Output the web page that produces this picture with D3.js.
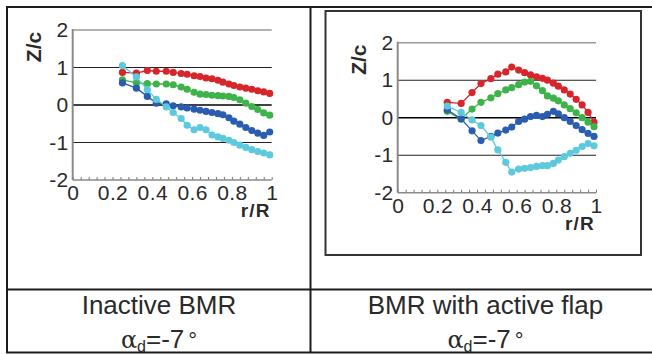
<!DOCTYPE html>
<html>
<head>
<meta charset="utf-8">
<script src="https://cdn.jsdelivr.net/npm/d3@7"></script>
<style>
  html, body { margin: 0; padding: 0; background: #fff; }
  svg { display: block; }
</style>
</head>
<body>
<svg id="chart" width="652" height="354"></svg>
<script>
// ---------------- DATA ----------------
const rValues = [0.25, 0.32, 0.375, 0.42, 0.47, 0.505, 0.545, 0.575, 0.61, 0.64, 0.67,
                 0.70, 0.73, 0.755, 0.785, 0.81, 0.84, 0.87, 0.90, 0.93, 0.96, 0.99];

// Inactive BMR
const inactiveRed   = [0.87, 0.85, 0.92, 0.90, 0.90, 0.87, 0.84, 0.82, 0.78, 0.76, 0.72,
                       0.70, 0.66, 0.61, 0.56, 0.52, 0.48, 0.45, 0.42, 0.38, 0.35, 0.31];
const inactiveGreen = [0.67, 0.59, 0.57, 0.56, 0.56, 0.54, 0.48, 0.42, 0.34, 0.29, 0.28,
                       0.26, 0.25, 0.24, 0.23, 0.20, 0.14, 0.05, -0.04, -0.12, -0.21, -0.27];
const inactiveBlue  = [0.59, 0.45, 0.23, 0.05, 0.03, -0.02, -0.05, -0.08, -0.11, -0.14, -0.17,
                       -0.20, -0.23, -0.26, -0.34, -0.43, -0.51, -0.60, -0.68, -0.75, -0.81, -0.72];
const inactiveCyan  = [1.05, 0.75, 0.41, 0.15, -0.05, -0.20, -0.36, -0.54, -0.66, -0.60, -0.66,
                       -0.80, -0.85, -0.89, -0.94, -1.00, -1.07, -1.13, -1.19, -1.24, -1.28, -1.33];

// BMR with active flap
const activeRed   = [0.41, 0.38, 0.67, 0.91, 1.04, 1.16, 1.22, 1.35, 1.27, 1.20, 1.14,
                     1.09, 1.05, 1.00, 0.92, 0.84, 0.74, 0.63, 0.49, 0.34, 0.14, -0.12];
const activeGreen = [0.17, -0.04, 0.23, 0.41, 0.53, 0.64, 0.74, 0.80, 0.88, 0.95, 0.97,
                     0.85, 0.72, 0.58, 0.52, 0.45, 0.34, 0.24, 0.13, 0.00, -0.12, -0.24];
const activeBlue  = [0.21, -0.03, -0.35, -0.61, -0.50, -0.41, -0.33, -0.25, -0.10, -0.04, 0.03,
                     0.06, 0.03, 0.09, 0.17, 0.10, 0.00, -0.10, -0.21, -0.32, -0.42, -0.50];
const activeCyan  = [0.31, 0.14, -0.06, -0.21, -0.52, -0.86, -1.19, -1.45, -1.37, -1.35, -1.33,
                     -1.30, -1.28, -1.28, -1.22, -1.13, -1.04, -0.95, -0.87, -0.77, -0.69, -0.75];

const xTickValues = [0, 0.2, 0.4, 0.6, 0.8, 1];
const xTickLabels = ["0", "0.2", "0.4", "0.6", "0.8", "1"];
const yTickValues = [-2, -1, 0, 1, 2];
const yTickLabels = ["-2", "-1", "0", "1", "2"];
const gridValues = [1, 0, -1];

const seriesColors = ["#d6262b", "#3db34a", "#2a5cb0", "#5cc9dd"];
const panelTitles = ["Inactive BMR", "BMR with active flap"];
const xLabel = "r/R";
const yLabel = "Z/c";

// ---------------- DRAW ----------------
const svg = d3.select("#chart");
const FONT = "'Liberation Sans', Arial, Helvetica, sans-serif";

const panels = [
  { x0: 72.7, x1: 271.7, yTop: 30, yBot: 180, series: [inactiveRed, inactiveGreen, inactiveBlue, inactiveCyan] },
  { x0: 397.7, x1: 596, yTop: 42.7, yBot: 192.7, series: [activeRed, activeGreen, activeBlue, activeCyan] }
];

// table frame
const frame = svg.append("g").attr("stroke", "#1c1c1c").attr("stroke-width", 2).attr("fill", "none");
frame.append("line").attr("x1", 6).attr("x2", 652).attr("y1", 7).attr("y2", 7);
frame.append("line").attr("x1", 7).attr("x2", 7).attr("y1", 6).attr("y2", 353);
frame.append("line").attr("x1", 310.5).attr("x2", 310.5).attr("y1", 6).attr("y2", 353);
frame.append("line").attr("x1", 6).attr("x2", 652).attr("y1", 289.5).attr("y2", 289.5);
frame.append("line").attr("x1", 6).attr("x2", 652).attr("y1", 352.5).attr("y2", 352.5);
// inner box around right chart
svg.append("rect").attr("x", 325.5).attr("y", 11).attr("width", 315.5).attr("height", 244)
  .attr("fill", "none").attr("stroke", "#333").attr("stroke-width", 2);

panels.forEach((p, pi) => {
  const x = d3.scaleLinear().domain([0, 1]).range([p.x0, p.x1]);
  const y = d3.scaleLinear().domain([-2, 2]).range([p.yBot, p.yTop]);
  const g = svg.append("g");

  // top frame line (y = 2)
  g.append("line").attr("x1", x(0)).attr("x2", x(1)).attr("y1", y(2)).attr("y2", y(2))
    .attr("stroke", "#999").attr("stroke-width", 1.5);
  // gridlines
  g.selectAll("line.grid").data(gridValues).join("line").attr("class", "grid")
    .attr("x1", x(0)).attr("x2", x(1))
    .attr("y1", d => y(d)).attr("y2", d => y(d))
    .attr("stroke", d => d === 0 ? "#000" : "#222")
    .attr("stroke-width", d => d === 0 ? 1.6 : 1.1);

  // minor ticks on x axis
  const minor = g.append("g").attr("transform", `translate(0,${y(-2)})`)
    .call(d3.axisBottom(x).tickValues(d3.range(0, 1.0001, 0.04)).tickSize(-3).tickFormat(""));
  minor.select(".domain").remove();
  minor.selectAll("line").attr("stroke", "#777");

  // x axis labels
  const xa = g.append("g").attr("transform", `translate(0,${y(-2)})`)
    .call(d3.axisBottom(x).tickValues(xTickValues).tickSize(0).tickPadding(5.5)
      .tickFormat((d, i) => xTickLabels[i]));
  xa.select(".domain").remove();
  xa.selectAll("text").attr("font-family", FONT).attr("font-size", 21)
    .attr("letter-spacing", "0.4px").attr("fill", "#2a2a2a");

  // y axis labels
  const ya = g.append("g").attr("transform", `translate(${x(0)},0)`)
    .call(d3.axisLeft(y).tickValues(yTickValues).tickSize(0).tickPadding(4)
      .tickFormat((d, i) => yTickLabels[i]));
  ya.select(".domain").remove();
  ya.selectAll("text").attr("font-family", FONT).attr("font-size", 21)
    .attr("letter-spacing", "0.4px").attr("fill", "#2a2a2a");

  // axis lines
  g.append("line").attr("x1", x(0)).attr("x2", x(0)).attr("y1", y(2) - 1).attr("y2", y(-2))
    .attr("stroke", "#8a8a8a").attr("stroke-width", 2);
  g.append("line").attr("x1", x(0)).attr("x2", x(1)).attr("y1", y(-2)).attr("y2", y(-2))
    .attr("stroke", "#8a8a8a").attr("stroke-width", 1.5);

  // axis titles
  g.append("text").attr("x", x(1) - 1).attr("y", y(-2) + 37)
    .attr("text-anchor", "end").attr("font-family", FONT).attr("font-weight", "bold")
    .attr("font-size", 19).attr("letter-spacing", "1.2px").attr("fill", "#2a2a2a").text(xLabel);
  g.append("text")
    .attr("transform", `translate(${x(0) - 32},${y(2) + 17}) rotate(-90)`)
    .attr("text-anchor", "middle").attr("font-family", FONT).attr("font-weight", "bold")
    .attr("font-size", 21).attr("fill", "#2a2a2a").text(yLabel);

  // series
  const line = d3.line().x((d, i) => x(rValues[i])).y(d => y(d));
  p.series.forEach((vals, si) => {
    g.append("path").datum(vals).attr("d", line).attr("fill", "none")
      .attr("stroke", seriesColors[si]).attr("stroke-width", 1.3);
    g.selectAll(null).data(vals).join("circle")
      .attr("cx", (d, i) => x(rValues[i])).attr("cy", d => y(d)).attr("r", 3.6)
      .attr("fill", seriesColors[si]);
  });

  // captions
  const cx = pi === 0 ? 159 : 485.5;
  svg.append("text").attr("x", cx).attr("y", 314).attr("text-anchor", "middle")
    .attr("font-family", FONT).attr("font-size", 26).attr("fill", "#2a2a2a").text(panelTitles[pi]);
  const t2 = svg.append("text").attr("x", cx).attr("y", 348).attr("text-anchor", "middle")
    .attr("font-family", FONT).attr("font-size", 26).attr("fill", "#2a2a2a");
  t2.append("tspan").attr("font-family", "'DejaVu Serif', serif").attr("font-size", 24).text("α");
  t2.append("tspan").attr("font-size", 16).attr("dy", 4).text("d");
  t2.append("tspan").attr("dy", -4).text("=-7");
  t2.append("tspan").attr("dx", 4).attr("font-size", 22).text("°");
});
</script>
</body>
</html>
